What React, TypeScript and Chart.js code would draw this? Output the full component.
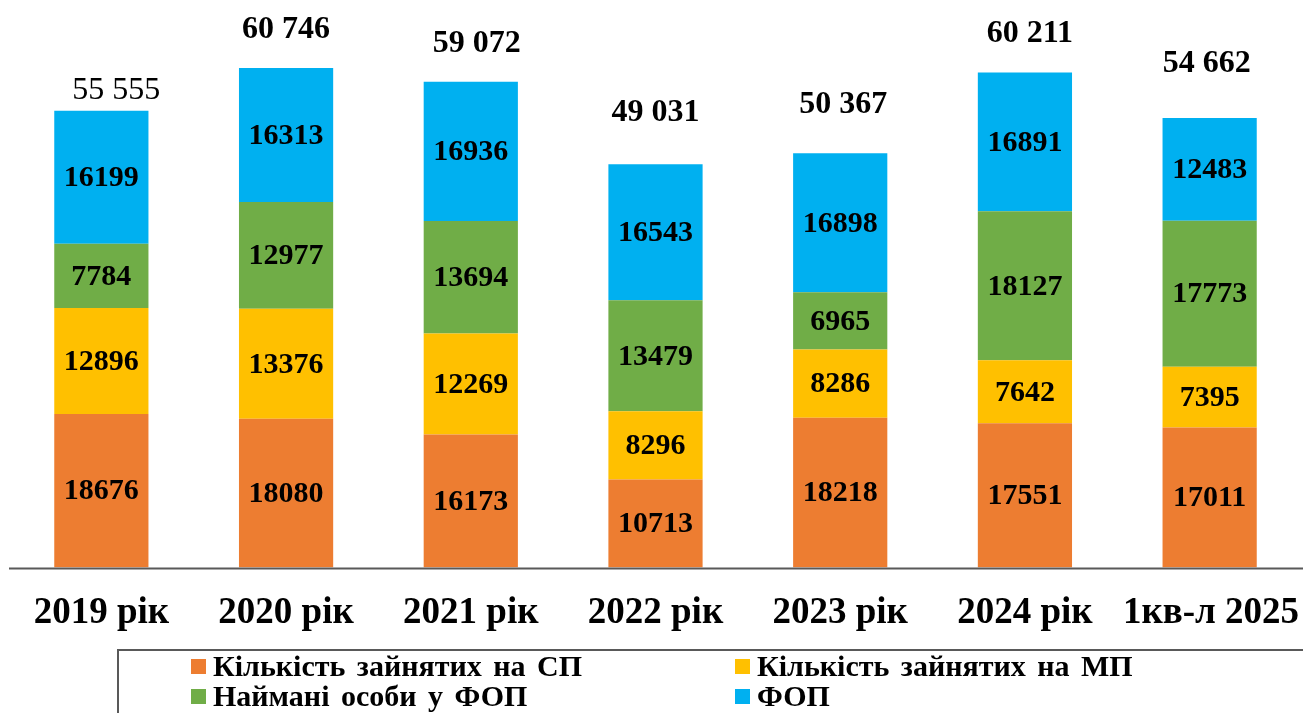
import React, { useEffect, useRef } from "react";
import { Chart, registerables } from "chart.js";

Chart.register(...registerables);

const categories = ["2019 рік", "2020 рік", "2021 рік", "2022 рік", "2023 рік", "2024 рік", "1кв-л 2025"];
const employedSP = [18676, 18080, 16173, 10713, 18218, 17551, 17011];
const employedMP = [12896, 13376, 12269, 8296, 8286, 7642, 7395];
const hiredFOP = [7784, 12977, 13694, 13479, 6965, 18127, 17773];
const fop = [16199, 16313, 16936, 16543, 16898, 16891, 12483];
const seriesNames = ["Кількість зайнятих на СП", "Кількість зайнятих на МП", "Наймані особи у ФОП", "ФОП"];
const seriesColors = ["#ED7D31", "#FFC000", "#70AD47", "#00B0F0"];

// label placement tweaks for totals (pixels above bar top, x shift)
const totalLift = [20, 38, 38, 52, 49, 39, 54];
const totalShiftX = [15, 0, 6, 0, 3, 5, -3];
const totalBold = [false, true, true, true, true, true, true];

const SERIF = '"Liberation Serif", "Times New Roman", serif';

function fmt(n: number) {
  return String(n).replace(/\B(?=(\d{3})+(?!\d))/g, " ");
}

const labelsPlugin = {
  id: "customLabels",
  afterDatasetsDraw(chart: any) {
    const ctx = chart.ctx;
    const area = chart.chartArea;
    ctx.save();
    // axis line
    ctx.strokeStyle = "#595959";
    ctx.lineWidth = 2;
    ctx.beginPath();
    ctx.moveTo(9, area.bottom + 1);
    ctx.lineTo(1303, area.bottom + 1);
    ctx.stroke();

    ctx.fillStyle = "#000";
    ctx.textAlign = "center";
    ctx.textBaseline = "middle";
    // segment labels
    ctx.font = `bold 30px ${SERIF}`;
    chart.data.datasets.forEach((ds: any, di: number) => {
      const meta = chart.getDatasetMeta(di);
      meta.data.forEach((el: any, i: number) => {
        const y = (el.y + el.base) / 2;
        ctx.fillText(String(ds.data[i]), el.x, y + 1);
      });
    });
    // totals
    const n = chart.data.labels.length;
    const lastMeta = chart.getDatasetMeta(chart.data.datasets.length - 1);
    for (let i = 0; i < n; i++) {
      let total = 0;
      chart.data.datasets.forEach((ds: any) => (total += ds.data[i]));
      const el = lastMeta.data[i];
      ctx.font = `${totalBold[i] ? "bold " : ""}32px ${SERIF}`;
      ctx.fillText(fmt(total), el.x + totalShiftX[i], el.y - totalLift[i]);
    }
    // category labels
    ctx.font = `bold 37px ${SERIF}`;
    const m0 = chart.getDatasetMeta(0);
    for (let i = 0; i < n; i++) {
      const el = m0.data[i];
      let x = el.x;
      if (i === n - 1) x = 1211;
      ctx.fillText(chart.data.labels[i], x, 613);
    }
    ctx.restore();
  },
};

export default function App() {
  const ref = useRef<HTMLCanvasElement>(null);
  useEffect(() => {
    document.body.style.margin = "0";
    const chart = new Chart(ref.current!, {
      type: "bar",
      data: {
        labels: categories,
        datasets: [employedSP, employedMP, hiredFOP, fop].map((d, i) => ({
          label: seriesNames[i],
          data: d,
          backgroundColor: seriesColors[i],
          borderWidth: 0,
          barPercentage: 0.51,
          categoryPercentage: 1,
        })),
      },
      options: {
        responsive: false,
        animation: false,
        layout: { padding: { left: 9, right: 1, top: 33, bottom: 145.5 } },
        plugins: { legend: { display: false }, tooltip: { enabled: false } },
        scales: {
          x: { stacked: true, display: false },
          y: { stacked: true, display: false, min: 0, max: 65000 },
        },
      },
      plugins: [labelsPlugin],
    });
    return () => chart.destroy();
  }, []);

  const legendItem = (i: number, left: number, top: number) => (
    <div
      key={i}
      style={{
        position: "absolute",
        left,
        top,
        height: 30,
        display: "flex",
        alignItems: "center",
        whiteSpace: "nowrap",
      }}
    >
      <span style={{ display: "inline-block", width: 15, height: 15, background: seriesColors[i], marginRight: 7 }} />
      <span
        style={{
          fontFamily: SERIF,
          fontWeight: "bold",
          fontSize: 30,
          lineHeight: "30px",
          color: "#000",
          display: "inline-block",
          wordSpacing: 4,
        }}
      >
        {seriesNames[i]}
      </span>
    </div>
  );

  return (
    <div style={{ position: "fixed", left: 0, top: 0, width: 1303, height: 713, background: "#fff", overflow: "hidden" }}>
      <canvas ref={ref} width={1303} height={713} style={{ position: "absolute", left: 0, top: 0 }} />
      <div
        style={{
          position: "absolute",
          left: 117,
          top: 649,
          width: 1300,
          height: 100,
          borderTop: "2px solid #595959",
          borderLeft: "2px solid #595959",
        }}
      />
      {legendItem(0, 191, 651)}
      {legendItem(1, 735, 651)}
      {legendItem(2, 191, 681)}
      {legendItem(3, 735, 681)}
    </div>
  );
}
